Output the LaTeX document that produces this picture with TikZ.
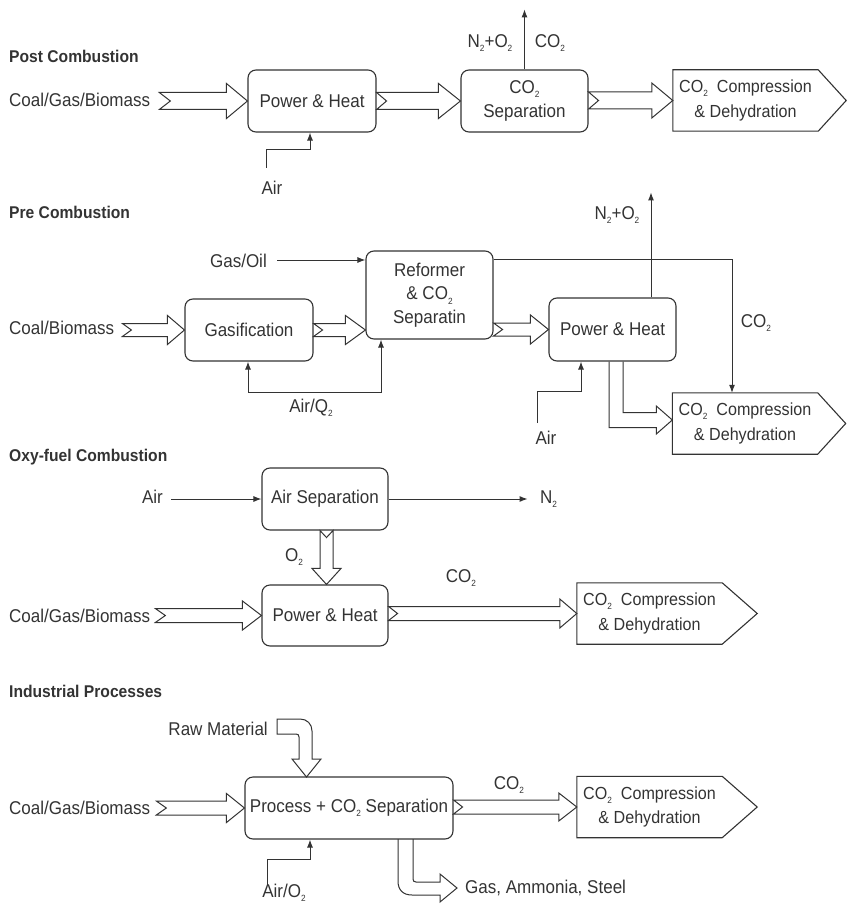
\documentclass[tikz,border=0pt]{standalone}
\usepackage{fontspec}
\setmainfont[FakeStretch=0.92]{Liberation Sans}
\usetikzlibrary{calc,arrows.meta}
\definecolor{ink}{HTML}{333333}
\newcommand\lowtwo[1]{\raisebox{-0.45ex}{\fontsize{9}{9}\selectfont #1}}
\newcommand\fatarr[6]{%
 \draw[fatline] let \p1=#1, \p2=#2 in
 (\x1,\y2+#3pt) -- (\x2-#5pt,\y2+#3pt) -- (\x2-#5pt,\y2+#4pt) -- (\x2,\y2) -- (\x2-#5pt,\y2-#4pt) -- (\x2-#5pt,\y2-#3pt) -- (\x1,\y2-#3pt) -- (\x1+#6pt,\y2) -- cycle;}
\begin{document}
\begin{tikzpicture}[x=1pt,y=-1pt,
  every node/.style={text=ink, font=\fontsize{18.5}{24}\selectfont, inner sep=0pt},
  box/.style={draw=ink, line width=1.1pt, rounded corners=8pt, align=center, minimum height=62pt},
  compbox/.style={align=center, minimum width=145pt, minimum height=61pt, font=\fontsize{17.5}{24.5}\selectfont},
  boxline/.style={draw=ink, line width=1.1pt, line join=miter},
  title/.style={anchor=west, font=\bfseries\fontsize{17}{20}\selectfont},
  fatline/.style={draw=ink, line width=1pt, line join=miter},
  arr/.style={draw=ink, line width=1pt, -{Latex[length=8pt,width=6pt]}},
  arrtwo/.style={draw=ink, line width=1pt, {Latex[length=8pt,width=6pt]}-{Latex[length=8pt,width=6pt]}}]
\useasboundingbox (0,0) rectangle (846,904);

% ---------------- Post Combustion ----------------
\node[title] (t1) at (9,56) {Post Combustion};
\node[anchor=west] (coal1) at (9,100) {Coal/Gas/Biomass};
\node[box, minimum width=128pt] (ph1) at (312,101) {Power \& Heat};
\node[box, minimum width=127pt] (sep1) at (524.5,101) {CO\lowtwo{2}\\Separation};
\node[compbox] (comp1) at (745.5,100.5) {CO\lowtwo{2}\ \ Compression\\\& Dehydration};
\draw[boxline] (comp1.north west) -- (comp1.north east) -- ([xshift=28pt]comp1.east) -- (comp1.south east) -- (comp1.south west) -- cycle;
\fatarr{($(coal1.east)+(9pt,0)$)}{(ph1.west)}{8.5}{17.5}{21}{11}
\fatarr{(ph1.east)}{(sep1.west)}{8.5}{17.5}{22}{10}
\fatarr{(sep1.east)}{(comp1.west)}{8.5}{17.5}{21}{10}
\draw[arr] (sep1.north) -- ++(0,-60);
\node (n1) at (490,43) {N\lowtwo{2}+O\lowtwo{2}};
\node (c1) at (550,43) {CO\lowtwo{2}};
\coordinate (a1) at (266,168);
\draw[arr] (a1) -- ++(0,-18) -| ([xshift=-2pt]ph1.south);
\node (air1) at (272,188) {Air};

% ---------------- Pre Combustion ----------------
\node[title] (t2) at (9,212) {Pre Combustion};
\node[anchor=east] (gasoil) at (267,261) {Gas/Oil};
\node[anchor=west] (coal2) at (9,328) {Coal/Biomass};
\node[box, minimum width=128pt] (gasif) at (249,330) {Gasification};
\node[box, minimum width=127pt, minimum height=88pt, font=\fontsize{18.5}{23.5}\selectfont] (ref) at (429.5,295) {Reformer\\\& CO\lowtwo{2}\\Separatin};
\node[box, minimum width=127pt, minimum height=63pt] (ph2) at (612.5,329.5) {Power \& Heat};
\node[compbox] (comp2) at (745,423.5) {CO\lowtwo{2}\ \ Compression\\\& Dehydration};
\draw[boxline] (comp2.north west) -- (comp2.north east) -- ([xshift=28pt]comp2.east) -- (comp2.south east) -- (comp2.south west) -- cycle;
\coordinate (go) at (277,260);
\draw[arr] (go) -- (go -| ref.west);
\fatarr{($(coal2.east)+(8pt,0)$)}{(gasif.west)}{6.5}{14.5}{17}{9}
\fatarr{(gasif.east)}{(gasif.east -| ref.west)}{6.5}{14.5}{20}{9}
\fatarr{(ref.east |- ph2.west)}{(ph2.west)}{6.5}{14.5}{18}{9}
\draw[arrtwo] ([xshift=-1pt]gasif.south) -- ++(0,31) -| ([xshift=-48.5pt]ref.south);
\node (airo2) at (311,408) {Air/Q\lowtwo{2}};
\draw[arr] ([yshift=36pt]ref.east) -| ([xshift=-13pt]comp2.north);
\node (c2) at (756,323) {CO\lowtwo{2}};
\draw[arr] ([xshift=38.5pt]ph2.north) -- ++(0,-105);
\node (n2) at (617,215) {N\lowtwo{2}+O\lowtwo{2}};
\coordinate (a2) at (537,423);
\draw[arr] (a2) -- ++(0,-32) -| ([xshift=-31.5pt]ph2.south);
\node (air2) at (546,438) {Air};
\draw[fatline] let \p1=(ph2.south), \p2=(comp2.west) in
 (\x1-3.5pt,\y1) -- (\x1-3.5pt,\y2-4pt) -- (\x2-16pt,\y2-4pt) -- (\x2-16pt,\y2-10.5pt) -- (\x2,\y2+3.5pt) -- (\x2-16pt,\y2+17.5pt) -- (\x2-16pt,\y2+11pt) -- (\x1+10.5pt,\y2+11pt) -- (\x1+10.5pt,\y1);

% ---------------- Oxy-fuel Combustion ----------------
\node[title] (t3) at (9,457) {Oxy-fuel Combustion};
\node[anchor=east] (air3) at (163,497) {Air};
\node[box, minimum width=126pt] (airsep) at (325,499) {Air Separation};
\node[box, minimum width=126pt, minimum height=61pt] (ph3) at (325,615.5) {Power \& Heat};
\node[anchor=west] (coal3) at (9,616) {Coal/Gas/Biomass};
\node[compbox] (comp3) at (649.5,613.5) {CO\lowtwo{2}\ \ Compression\\\& Dehydration};
\draw[boxline] (comp3.north west) -- (comp3.north east) -- ([xshift=35pt]comp3.east) -- (comp3.south east) -- (comp3.south west) -- cycle;
\coordinate (a3) at (171,499);
\draw[arr] (a3) -- (a3 -| airsep.west);
\draw[arr] (airsep.east) -- ++(139,0);
\node[anchor=west] (n3) at (540,499) {N\lowtwo{2}};
\draw[fatline] let \p1=(airsep.south), \p2=(ph3.north) in
 (\x1-5pt,\y1) -- (\x1-5pt,\y2+16pt) -- (\x1-13pt,\y2+16pt) -- (\x1+1.5pt,\y2) -- (\x1+16pt,\y2+16pt) -- (\x1+8pt,\y2+16pt) -- (\x1+8pt,\y1) -- (\x1+1.5pt,\y1-7pt) -- cycle;
\node (o3) at (294,557) {O\lowtwo{2}};
\fatarr{($(coal3.east)+(5pt,0)$)}{(ph3.west)}{7}{14.5}{19}{10}
\fatarr{(ph3.east)}{(comp3.west)}{7}{14.5}{17}{9}
\node (c3) at (461,578) {CO\lowtwo{2}};

% ---------------- Industrial Processes ----------------
\node[title] (t4) at (9,691) {Industrial Processes};
\node[anchor=east] (raw) at (268,729) {Raw Material};
\node[box, minimum width=208pt] (proc) at (349,808) {Process + CO\lowtwo{2} Separation};
\node[anchor=west] (coal4) at (9,808) {Coal/Gas/Biomass};
\node[compbox] (comp4) at (649.5,807) {CO\lowtwo{2}\ \ Compression\\\& Dehydration};
\draw[boxline] (comp4.north west) -- (comp4.north east) -- ([xshift=35pt]comp4.east) -- (comp4.south east) -- (comp4.south west) -- cycle;
\fatarr{($(coal4.east)+(6pt,0)$)}{(proc.west)}{7}{14.5}{18}{10}
\fatarr{(proc.east)}{(comp4.west)}{7}{14}{18}{9}
\node (c4) at (509,785) {CO\lowtwo{2}};
\draw[fatline] (277,734) -- (277,719) -- (300,719) .. controls (307,719) and (312,724) .. (312,731) -- (312,759) -- (321,759) -- (306.5,777) -- (292,759) -- (299,759) -- (299,737) .. controls (299,735) and (298,734) .. (296,734) -- cycle;
\coordinate (a4) at (267,885);
\draw[arr] (a4) -- ++(0,-26) -| ([xshift=-39pt]proc.south);
\node (airo4) at (284,893) {Air/O\lowtwo{2}};
\draw[fatline] (398,839) -- (398,881) .. controls (398,890) and (403,895) .. (412,895) -- (440,895) -- (440,902) -- (457,888) -- (440,874) -- (440,882) -- (416,882) .. controls (414,882) and (413,881) .. (413,879) -- (413,839);
\node[anchor=west] (prod) at (465,888) {Gas, Ammonia, Steel};
\end{tikzpicture}
\end{document}
